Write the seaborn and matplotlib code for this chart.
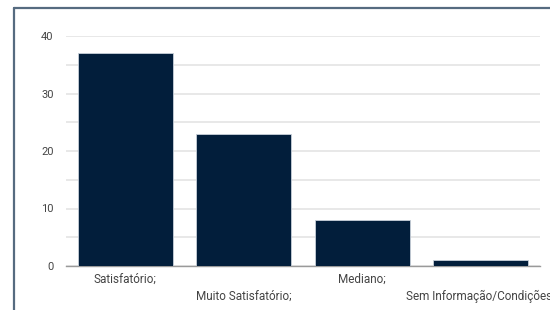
# Gráfico de barras: avaliação (contagem por categoria)
import pandas as pd
import seaborn as sns
import matplotlib.pyplot as plt
from matplotlib.lines import Line2D

# dados
categorias = ['Satisfatório;', 'Muito Satisfatório;', 'Mediano;', 'Sem Informação/Condições;']
valores = [37, 23, 8, 1]

df = pd.DataFrame({'categoria': categorias, 'total': valores})

sns.set_theme(style='white')
plt.rcParams['font.family'] = ['Roboto', 'DejaVu Sans']

fig = plt.figure(figsize=(5.5, 3.1), dpi=100)
ax = fig.add_axes([66 / 550, 1 - 266 / 310, 474 / 550, 230 / 310])

sns.barplot(data=df, x='categoria', y='total', color='#021e3b', width=0.8,
            edgecolor='#c8d0da', linewidth=0.6, saturation=1, ax=ax, zorder=3)

ax.set_ylim(0, 40)
ax.set_yticks([0, 10, 20, 30, 40])
ax.set_yticks([5, 15, 25, 35], minor=True)
ax.grid(axis='y', which='both', color='#e4e4e4', linewidth=1.2, zorder=0)
ax.set_xlabel('')
ax.set_ylabel('')
ax.tick_params(axis='both', length=0, colors='#444444')
ax.tick_params(axis='y', labelsize=8, pad=9)
ax.tick_params(axis='x', labelsize=8.5)

# rótulos alternados (escalonados)
for i, tick in enumerate(ax.xaxis.get_major_ticks()):
    tick.set_pad(5 if i % 2 == 0 else 17)

for s in ['top', 'right', 'left']:
    ax.spines[s].set_visible(False)
ax.spines['bottom'].set_color('#9a9a9a')
ax.spines['bottom'].set_linewidth(1.0)

# moldura do cartão
fig.add_artist(Line2D([14 / 550, 14 / 550], [0, 1 - 8 / 310], color='#566b80', linewidth=1.6))
fig.add_artist(Line2D([14 / 550, 1], [1 - 8 / 310, 1 - 8 / 310], color='#566b80', linewidth=1.6))

fig.savefig('out.png', dpi=100)
